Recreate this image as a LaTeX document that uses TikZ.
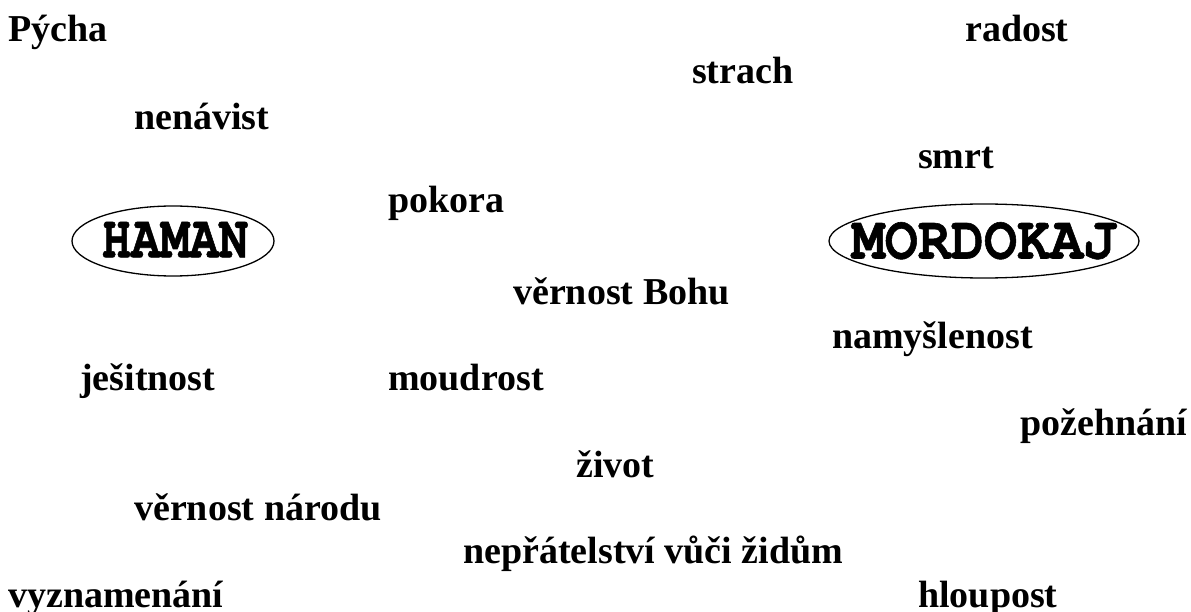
\documentclass[tikz,border=0pt]{standalone}
\usepackage[T1]{fontenc}
\usepackage{fontspec}
\setmainfont{Liberation Serif}
\usetikzlibrary{shapes.geometric}
\newcommand\courb{\fontencoding{T1}\fontfamily{pcr}\fontseries{b}\fontshape{n}\fontsize{53}{53}\selectfont}
\newcommand\heavytext[1]{\special{pdf:literal direct 2 Tr 0.5 w}#1\special{pdf:literal direct 0 Tr}}
\begin{document}
\begin{tikzpicture}[x=1pt,y=-1pt,
  word/.style={anchor=base west, inner sep=0pt, font=\fontsize{38}{40}\selectfont\bfseries},
  person/.style={draw, ellipse, line width=1.3pt, inner sep=0pt},
  pname/.style={inner sep=0pt, font=\courb}]
\useasboundingbox (0,0) rectangle (1191,612);
\node[person, minimum width=202pt, minimum height=70pt] (haman) at (173,241) {};
\node[pname] (hamantext) at ([xshift=2pt]haman.center) {\scalebox{0.92}[1.15]{\heavytext{HAMAN}}};
\node[person, minimum width=310pt, minimum height=74pt] (mordokaj) at (984,241) {};
\node[pname] (mordokajtext) at (mordokaj.center) {\scalebox{1.04}[1.15]{\heavytext{MORDOKAJ}}};
\node[word] (w1) at (8,42) {Pýcha};
\node[word] (w2) at (965,42) {radost};
\node[word] (w3) at (692,84) {strach};
\node[word] (w4) at (134,130) {nenávist};
\node[word] (w5) at (918,169) {smrt};
\node[word] (w6) at (388,213) {pokora};
\node[word] (w7) at (513,305) {věrnost Bohu};
\node[word] (w8) at (832,348) {namyšlenost};
\node[word] (w9) at (80,390) {ješitnost};
\node[word] (w10) at (388,390) {moudrost};
\node[word] (w11) at (1020,435) {požehnání};
\node[word] (w12) at (576,477) {život};
\node[word] (w13) at (134,520) {věrnost národu};
\node[word] (w14) at (463,563) {nepřátelství vůči židům};
\node[word] (w15) at (8,607) {vyznamenání};
\node[word] (w16) at (918,607) {hloupost};
\end{tikzpicture}
\end{document}
